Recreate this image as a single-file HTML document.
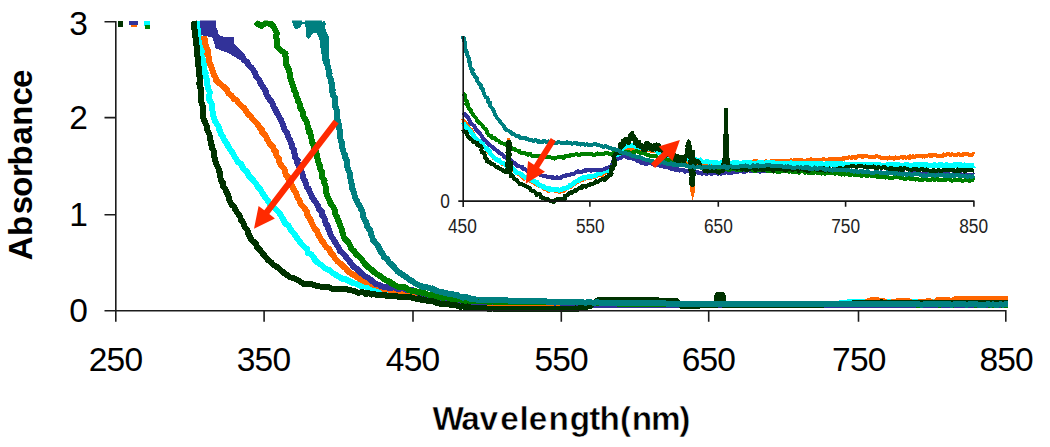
<!DOCTYPE html>
<html lang="en">
<head>
<meta charset="utf-8">
<title>Absorbance vs Wavelength</title>
<style>html,body{margin:0;padding:0;background:#fff;}body{width:1050px;height:447px;overflow:hidden;}svg{display:block;}</style>
</head>
<body>
<svg width="1050" height="447" viewBox="0 0 1050 447">
<rect width="1050" height="447" fill="#fff"/>
<defs><filter id="sb" x="-2%" y="-2%" width="104%" height="104%"><feGaussianBlur stdDeviation="0.45"/></filter></defs>
<defs><clipPath id="mc"><rect x="100" y="20.6" width="909" height="300"/></clipPath></defs>
<g clip-path="url(#mc)" filter="url(#sb)"><g fill="none" stroke-width="6" stroke-linejoin="round" stroke-linecap="butt" shape-rendering="crispEdges">
<polyline stroke="#00ffff" points="198.0,21.0 198.0,23.0 198.9,25.5 199.1,28.6 198.6,31.4 198.9,33.9 199.3,35.9 200.2,39.8 200.0,41.3 201.2,45.2 201.5,46.8 202.5,48.8 202.6,51.8 201.7,54.2 202.3,57.9 203.0,60.0 202.9,62.6 204.2,64.8 204.5,66.8 204.1,69.5 205.6,72.4 205.4,75.1 206.1,77.2 207.2,80.3 206.7,82.6 207.6,85.6 208.4,87.1 208.5,90.0 209.8,91.9 209.3,95.4 209.3,97.5 209.5,100.3 211.2,102.6 211.8,104.7 212.0,107.7 212.2,109.9 213.1,113.3 213.0,115.0 214.2,118.1 214.8,121.0 217.0,124.3 218.5,126.0 219.1,129.5 220.5,132.0 221.2,134.6 223.0,136.7 224.4,140.5 226.1,142.3 228.1,146.0 229.1,147.9 231.4,151.3 233.4,154.0 234.1,155.9 236.0,158.7 238.0,162.1 241.2,163.7 242.1,166.6 244.4,169.8 247.3,172.2 248.5,175.3 251.4,178.3 253.8,181.0 256.5,184.2 257.7,186.9 259.9,188.7 262.3,192.8 264.2,195.7 265.5,198.0 267.9,200.7 269.9,203.9 272.4,205.8 275.1,208.8 277.9,211.4 280.7,215.0 281.7,217.1 283.7,220.2 285.5,223.8 288.3,225.3 290.0,228.6 291.6,231.0 293.8,233.3 296.6,237.5 297.9,239.3 300.0,242.0 301.5,243.9 304.1,246.7 307.1,249.1 307.9,253.0 311.0,254.2 313.2,256.6 315.4,260.8 317.5,262.5 320.6,264.5 322.1,265.6 324.4,268.0 327.6,269.6 329.7,270.4 333.0,273.3 335.6,274.7 338.0,276.2 340.0,277.5 342.3,278.7 345.4,278.9 347.6,280.5 351.2,282.0 353.6,283.3 357.6,283.9 360.3,285.8 362.4,285.9 366.0,286.5 367.5,287.1 370.3,287.9 373.6,289.2 376.5,290.4 379.6,290.3 382.1,291.4 383.8,291.7 388.0,292.4 390.0,292.5 392.9,292.8 394.5,293.7 397.2,294.1 400.8,293.8 402.3,295.1 405.4,294.2 406.9,294.5 410.0,295.5 413.2,296.4 414.4,296.7 418.3,296.8 419.7,296.9 421.9,296.3 425.8,297.8 427.5,298.6 429.9,298.8 433.1,298.0 434.6,298.5 437.1,299.3 440.0,299.5 442.4,299.7 445.0,300.9 448.3,300.4 451.5,301.5 454.0,301.9 457.0,301.5 459.7,301.8 462.4,301.1 465.0,301.7 467.0,302.9 469.9,302.6 473.6,303.0 475.8,303.1 478.6,303.4 481.2,303.6 484.0,303.8 486.5,303.8 489.1,303.9 491.6,304.0 494.3,303.9 496.7,303.9 499.2,304.0 501.7,304.0 504.3,304.1 506.9,304.2 509.5,304.0 511.9,304.2 514.5,304.0 516.8,304.1 519.3,304.1 521.9,304.3 524.6,304.3 527.0,304.3 529.6,304.2 532.2,304.4 534.6,304.5 537.2,304.4 539.9,304.5 542.2,304.4 544.8,304.4 547.2,304.4 549.9,304.3 552.4,304.5 554.8,304.5 557.5,304.6 560.0,304.6 562.4,304.7 565.1,304.7 567.4,304.5 569.9,304.7 572.4,304.5 575.0,304.7 577.6,304.5 579.9,304.7 582.5,304.6 584.9,304.4 587.6,304.5 589.9,304.7 592.5,304.6 594.9,304.6 597.4,304.6 600.0,304.5 602.5,304.7 604.9,304.4 607.5,304.4 609.9,304.4 612.4,304.4 614.9,304.4 617.6,304.4 620.0,304.4 622.5,304.4 624.9,304.3 627.6,304.5 629.9,304.5 632.6,304.4 635.1,304.5 637.5,304.6 640.0,304.5 642.6,304.6 645.0,304.6 647.6,304.5 650.0,304.4 652.4,304.3 654.9,304.5 657.4,304.3 659.9,304.5 662.6,304.5 664.9,304.3 667.4,304.4 669.9,304.4 672.4,304.6 675.1,304.4 677.4,304.5 679.9,304.4 682.4,304.4 685.0,304.4 687.4,304.4 689.9,304.3 692.4,304.3 694.9,304.2 697.4,304.3 700.0,304.4 702.6,304.4 705.1,304.5 707.5,304.3 710.1,304.2 712.6,304.4 714.9,304.4 717.6,304.4 720.1,304.4 722.4,304.3 725.0,304.4 727.6,304.4 730.0,304.4 732.6,304.4 734.9,304.2 737.4,304.3 740.0,304.3 742.4,304.4 745.0,304.3 747.5,304.3 750.0,304.1 752.6,304.3 755.0,304.3 757.5,304.1 760.1,304.2 762.4,304.2 765.1,304.1 767.6,304.4 770.0,304.2 772.5,304.3 775.1,304.2 777.5,304.1 779.9,304.1 782.6,304.1 785.0,304.0 787.4,304.1 790.1,304.2 792.6,304.1 795.0,304.1 797.5,304.0 800.1,304.0 802.6,304.2 804.9,304.1 807.6,304.2 810.0,304.0 812.4,304.2 814.9,304.1 817.4,304.1 820.1,303.9 822.6,304.0 825.1,304.1 827.4,304.1 830.0,303.9 832.4,304.0 835.0,304.0 837.5,303.7 839.9,303.4 842.4,303.3 844.9,302.9 847.6,302.5 850.0,302.3 852.6,302.4 855.1,302.2 857.5,302.2 860.2,302.3 862.5,302.2 865.0,302.1 867.4,302.3 870.0,302.4 872.5,302.2 875.1,302.1 877.5,302.3 880.2,302.3 882.6,302.3 885.2,302.2 887.7,302.0 890.2,302.2 892.7,302.2 895.1,302.0 897.8,302.0 900.2,302.1 902.6,302.2 905.3,302.1 907.7,302.1 910.2,302.1 912.6,302.0 915.1,302.2 917.7,302.0 920.3,302.2 922.7,302.0 925.1,301.9 927.7,301.9 930.2,302.0 932.8,302.2 935.3,302.0 937.8,302.0 940.2,302.0 942.7,301.9 945.4,301.9 947.8,302.0 950.4,301.9 952.8,301.9 955.3,302.0 958.0,302.1 960.5,301.8 962.7,302.0 965.5,301.9 967.9,301.8 970.3,302.0 973.0,302.0 975.5,301.8 977.8,301.8 980.4,301.9 983.1,301.9 985.5,302.0 987.9,301.9 990.3,301.9 992.9,302.0 995.5,301.8 997.9,301.8 1000.5,301.9 1002.9,301.7 1005.5,301.8 1008.0,301.8"/>
<polyline stroke="#ff6600" points="203.8,36.0 204.2,38.3 205.2,40.7 205.3,44.2 206.3,47.0 207.6,49.8 208.0,52.2 207.3,54.4 209.1,57.7 208.8,60.0 209.4,61.7 210.6,65.3 211.4,67.1 212.7,70.7 212.8,71.7 213.9,74.9 215.4,77.0 216.0,80.0 219.1,83.0 221.2,84.7 224.5,87.4 226.9,89.9 228.4,93.4 231.5,95.5 233.7,98.8 236.5,100.0 238.5,102.9 241.8,106.3 244.0,108.0 245.7,110.7 248.2,114.5 250.4,115.7 252.6,119.2 256.3,122.8 258.0,125.0 260.0,128.3 261.9,129.7 262.3,133.2 264.8,134.2 266.3,137.3 267.4,139.7 268.6,141.7 270.4,144.7 273.2,146.9 274.0,150.0 276.2,152.3 276.5,156.0 278.7,158.1 278.7,161.0 280.7,164.5 281.7,166.3 284.3,168.5 285.0,172.0 286.1,175.1 288.0,176.4 288.1,179.0 290.9,181.9 291.8,185.5 292.4,187.0 294.0,190.0 296.1,192.7 296.7,195.0 297.8,198.2 299.5,200.2 300.5,203.8 302.9,206.2 305.1,209.2 306.7,211.0 307.0,214.6 309.0,217.4 311.2,221.0 311.6,222.6 313.1,225.8 314.6,228.6 316.9,230.8 318.3,234.6 319.9,237.4 321.0,239.7 323.0,242.1 324.7,245.0 326.6,247.4 329.6,249.5 330.7,253.2 333.0,254.7 334.8,258.1 337.5,261.4 340.0,263.2 343.5,266.6 345.2,267.7 347.7,271.0 351.2,273.6 354.4,275.2 356.3,276.8 359.8,278.9 362.4,280.3 365.6,282.1 368.3,282.0 371.4,283.5 373.6,285.0 376.4,285.6 379.5,286.2 381.4,287.1 383.9,289.0 387.4,288.9 390.0,290.0 392.3,291.4 395.0,290.7 398.0,291.9 400.8,291.6 402.5,293.4 405.6,294.1 406.7,293.6 410.0,294.5 411.9,294.3 415.8,295.4 418.2,295.4 420.6,295.9 422.1,296.8 425.8,296.1 427.7,297.3 429.5,297.3 431.9,297.4 434.6,298.4 437.8,298.1 440.0,299.0 441.7,299.0 445.3,299.0 447.2,299.2 450.5,300.1 451.8,299.6 454.8,300.6 457.7,300.1 459.4,301.3 462.3,300.9 464.7,302.3 467.2,301.9 469.8,301.9 473.1,303.1 475.0,302.4 477.6,302.7 480.0,303.0 482.4,303.2 485.0,303.2 487.5,303.3 490.0,303.1 492.4,303.3 495.0,303.5 497.4,303.5 500.0,303.5 502.4,303.5 505.0,303.8 507.4,303.7 510.1,303.9 512.4,303.7 515.1,304.0 517.5,303.8 520.1,304.0 522.6,304.1 525.1,304.0 527.6,304.1 530.0,304.4 532.6,304.2 534.9,304.3 537.5,304.4 539.9,304.4 542.6,304.7 544.9,304.6 547.6,304.5 550.1,304.6 552.5,304.8 555.0,304.8 557.5,305.0 560.0,305.0 562.5,305.0 565.0,305.0 567.4,305.0 570.0,304.9 572.6,305.1 575.0,304.9 577.5,304.9 579.9,305.0 582.4,305.0 585.0,304.9 587.5,304.9 590.1,305.1 592.5,304.9 595.0,305.0 597.6,304.9 600.1,305.1 602.6,305.1 604.9,305.1 607.5,305.1 610.1,304.9 612.6,305.1 614.9,305.0 617.6,304.9 620.1,304.9 622.6,304.9 625.0,305.1 627.4,304.9 630.0,304.9 632.4,304.9 634.9,305.1 637.6,305.1 639.9,305.1 642.4,305.0 645.0,305.0 647.6,305.0 650.0,305.1 652.4,305.1 655.0,305.0 657.6,304.9 660.1,305.0 662.5,305.1 665.0,304.9 667.6,304.9 670.1,304.9 672.5,305.1 675.0,305.0 677.4,304.9 679.9,304.9 682.5,305.0 685.0,305.1 687.4,304.9 690.0,304.9 692.4,305.0 694.9,305.0 697.4,305.0 700.0,304.9 702.5,305.0 704.9,305.1 707.4,304.9 709.9,305.0 712.6,305.1 715.0,304.9 717.4,305.0 720.0,305.0 722.5,305.0 725.1,305.1 727.4,305.1 729.9,305.0 732.5,304.9 734.9,305.1 737.4,305.0 740.0,305.0 742.7,304.9 745.0,305.0 747.6,305.0 750.3,304.8 752.7,304.8 755.1,305.0 757.9,304.9 760.2,304.9 762.9,304.8 765.5,304.8 767.9,304.7 770.4,304.6 773.0,304.8 775.6,304.8 778.2,304.6 780.7,304.6 783.3,304.7 785.7,304.7 788.4,304.5 790.9,304.4 793.3,304.5 796.0,304.7 798.5,304.5 801.1,304.4 803.5,304.6 806.1,304.5 808.7,304.6 811.2,304.5 813.8,304.5 816.2,304.4 818.8,304.3 821.2,304.4 823.7,304.4 826.3,304.1 828.8,304.4 831.5,304.1 833.9,304.1 836.6,304.2 839.2,304.3 841.5,304.2 844.2,304.2 846.8,304.2 849.2,304.2 852.0,304.2 854.3,304.0 856.8,303.9 859.6,304.1 862.0,304.0 864.7,302.9 867.4,301.6 870.0,300.5 872.9,300.4 876.1,300.4 878.9,300.5 882.0,300.5 884.9,301.7 888.0,303.0 890.9,302.5 894.0,301.8 897.1,301.4 900.0,300.8 902.8,300.9 905.2,300.9 908.0,301.0 912.0,303.0 914.6,302.9 917.2,302.7 919.8,302.3 922.5,302.1 925.0,302.0 928.0,300.8 931.1,301.8 934.0,303.0 938.0,300.0 940.4,299.9 943.1,300.1 945.4,300.0 948.0,300.0 951.0,301.0 955.0,299.3 957.5,299.4 960.0,299.3 962.5,299.4 965.0,299.4 967.6,299.1 970.2,299.2 972.5,299.2 975.1,299.3 977.8,299.3 980.3,299.1 982.7,299.1 985.4,299.0 987.9,299.0 990.2,299.0 993.0,299.1 995.3,299.2 997.8,299.0 1000.4,299.1 1003.0,299.1 1005.4,299.0 1008.0,299.0"/>
<polyline stroke="#333399" points="204.0,24.0 206.1,25.2 209.6,25.7 212.0,26.0 212.6,28.7 214.9,31.7 215.0,34.3 217.5,36.8 218.0,40.0 220.0,40.7 223.3,42.6 224.9,42.4 228.0,44.0 230.2,45.7 233.4,47.4 236.0,50.0 238.5,52.5 242.3,56.4 243.6,59.8 247.0,62.0 248.3,64.6 251.8,68.0 253.4,70.1 255.0,73.0 256.0,76.0 257.5,77.9 259.5,80.4 261.1,84.4 262.8,86.6 264.6,89.3 265.9,91.9 266.5,94.8 268.4,97.7 270.0,100.0 272.2,102.6 273.1,105.9 274.4,107.8 276.0,111.0 277.8,114.4 279.3,116.9 280.8,119.7 281.8,122.1 283.0,125.0 283.8,127.7 284.6,129.9 286.9,132.9 287.7,134.6 288.5,137.4 290.0,139.8 291.2,143.2 292.0,145.0 292.3,147.8 294.1,149.8 294.5,153.3 294.5,155.1 295.5,158.0 297.7,160.0 297.1,162.6 298.6,165.0 299.7,168.0 300.8,170.6 302.4,173.0 302.7,176.4 303.4,178.6 305.0,181.0 306.1,184.2 306.9,187.4 308.5,188.6 309.7,192.0 311.3,195.0 312.2,197.7 314.6,200.9 316.2,203.0 318.2,206.2 319.2,209.4 321.9,211.8 322.1,215.1 324.1,217.4 325.0,219.7 325.6,223.5 327.8,226.0 328.3,228.6 329.6,231.5 330.5,234.9 332.0,237.2 333.6,239.7 335.7,243.0 336.7,245.0 338.5,247.5 340.0,250.9 342.8,253.2 345.1,255.5 346.5,258.0 348.8,260.4 351.2,263.5 353.2,266.5 356.4,268.4 359.3,271.4 362.4,274.1 365.1,276.3 368.3,277.8 371.5,280.6 373.6,282.0 375.6,283.8 379.8,285.0 381.3,286.3 384.7,287.0 387.5,286.4 389.0,288.3 392.6,287.4 394.2,287.5 397.0,288.8 400.0,288.6 402.8,288.4 406.9,289.9 408.7,290.5 412.4,290.2 415.4,291.6 418.3,292.7 421.3,293.5 423.6,293.8 425.9,294.8 429.2,295.5 431.8,296.4 434.8,296.0 437.1,296.4 440.3,297.7 443.1,297.4 445.8,298.0 448.6,299.0 451.5,300.1 453.4,300.5 457.0,300.4 459.5,300.7 462.4,301.3 464.5,300.8 468.0,300.4 470.0,301.5 471.5,301.7 475.2,302.4 477.4,302.0 480.0,302.0 482.5,302.0 485.1,301.9 487.6,302.1 490.0,302.2 492.5,302.1 495.0,302.2 497.4,302.1 500.0,302.1 502.6,302.1 505.1,302.1 507.5,302.1 510.0,302.3 512.5,302.3 514.9,302.2 517.4,302.3 520.0,302.3 522.4,302.3 525.1,302.3 527.4,302.2 529.9,302.2 532.6,302.4 535.0,302.4 537.6,302.4 540.0,302.4 542.6,302.4 545.1,302.3 547.6,302.4 550.1,302.3 552.4,302.3 555.1,302.6 557.5,302.4 560.0,302.5 562.6,302.8 565.0,302.8 567.4,303.0 569.9,303.1 572.5,303.5 574.9,303.5 577.4,303.6 580.1,303.9 582.6,304.0 584.9,304.1 587.5,304.5 590.0,304.5 592.6,304.5 595.0,304.5 597.5,304.5 599.9,304.5 602.4,304.8 604.9,304.9 607.4,304.9 609.9,304.7 612.6,304.8 615.1,304.8 617.4,305.0 620.0,305.0 622.6,305.1 625.1,304.9 627.5,305.1 630.0,305.1 632.4,305.1 635.1,304.9 637.4,305.0 640.1,304.9 642.5,305.1 644.9,305.1 647.5,304.9 650.0,305.0 652.5,305.1 654.9,305.1 657.5,305.0 660.1,305.0 662.5,305.1 665.2,305.1 667.6,304.9 669.9,305.1 672.6,305.1 675.0,305.0 677.7,305.1 680.1,304.9 682.6,305.1 685.0,305.1 687.6,305.1 690.2,304.9 692.4,304.9 695.1,305.0 697.7,305.1 700.0,305.1 702.7,305.1 705.1,304.9 707.7,305.1 710.2,305.1 712.6,304.9 715.1,305.1 717.5,305.1 720.3,304.9 722.7,305.1 725.1,304.9 727.6,305.1 730.2,305.0 732.5,305.1 735.2,304.9 737.7,305.1 740.3,305.0 742.7,305.0 745.1,304.9 747.6,305.1 750.1,305.0 752.6,305.0 755.1,304.9 757.8,305.0 760.1,305.0 762.8,304.9 765.2,305.0 767.7,304.9 770.1,305.1 772.8,305.0 775.2,304.9 777.8,305.0 780.3,305.1 782.8,305.1 785.1,304.9 787.6,304.9 790.1,304.9 792.7,305.1 795.2,305.1 797.9,304.9 800.3,305.0 802.6,305.1 805.2,305.0 807.8,305.1 810.3,305.0 812.7,304.9 815.4,305.1 817.7,304.9 820.2,305.0 822.9,305.1 825.4,304.9 827.9,305.1 830.3,305.1 832.6,304.9 835.4,305.1 837.8,304.9 840.3,305.1 842.7,304.9 845.2,304.9 847.8,304.9 850.2,304.9 852.9,304.9 855.4,304.9 857.7,305.1 860.2,305.1 862.9,305.1 865.2,305.0 867.7,305.1 870.4,305.0 872.8,305.0 875.4,305.0 877.9,304.9 880.3,304.9 882.9,305.0 885.2,305.1 887.8,305.0 890.2,304.9 893.0,305.0 895.3,305.0 897.8,305.1 900.2,305.1 902.7,305.1 905.4,304.9 907.9,304.9 910.3,304.9 912.8,305.1 915.5,305.1 917.8,304.9 920.5,304.9 923.0,304.9 925.5,304.9 928.0,305.0 930.3,304.9 933.0,305.0 935.3,305.0 938.0,304.9 940.4,304.9 942.8,305.1 945.5,304.9 947.8,304.9 950.5,305.0 952.9,304.9 955.5,305.1 958.0,305.0 960.3,304.9 963.0,305.0 965.5,304.9 968.0,305.0 970.6,305.1 973.0,304.9 975.6,305.0 978.1,304.9 980.4,305.1 982.9,304.9 985.4,305.0 987.8,305.0 990.5,305.0 992.9,305.1 995.6,305.1 997.9,305.1 1000.5,305.1 1002.9,305.1 1005.6,305.0 1008.0,305.0"/>
<polygon fill="#333399" stroke="none" points="200.0,20.0 216.0,20.0 217.0,36.0 233.7,37.4 234.8,46.0 245.0,55.0 240.0,60.0 228.0,53.0 215.8,48.5 212.4,37.4 201.0,35.0"/>
<polyline stroke="#008000" points="255.5,22.0 258.0,24.0 261.5,25.8 266.0,23.0 268.8,23.7 271.5,24.3 273.6,26.6 275.5,30.5 276.8,33.2 276.0,36.2 277.0,40.0 276.7,44.0 277.3,47.0 281.0,50.5 285.5,53.5 285.0,55.6 286.4,58.6 286.3,62.0 286.1,64.8 287.8,67.2 288.6,69.1 289.6,72.8 289.6,75.0 289.6,76.9 291.2,80.1 291.6,82.0 292.6,84.6 293.8,88.4 293.8,90.5 295.6,92.4 296.0,95.5 297.6,98.9 297.8,100.8 299.6,103.6 299.8,107.1 301.0,109.0 302.6,111.4 302.7,114.1 304.1,117.8 305.9,120.4 307.0,122.9 307.5,125.0 307.5,127.5 309.7,130.7 309.2,132.4 310.6,134.8 311.2,136.8 311.7,140.0 311.7,141.9 314.1,145.5 314.0,147.5 315.5,150.2 316.0,153.2 316.9,154.2 317.2,157.2 318.1,159.7 318.6,163.3 319.5,164.7 320.0,167.6 320.8,170.0 322.3,172.4 322.0,175.5 322.4,178.0 324.6,180.4 324.2,182.9 325.4,185.5 326.0,188.1 325.9,191.2 327.1,195.0 328.1,197.6 329.5,200.2 330.6,203.5 332.7,206.2 334.4,209.2 335.1,212.1 335.6,215.0 337.2,217.4 338.2,220.3 339.5,222.9 340.1,225.4 341.5,228.6 342.0,231.4 343.3,234.3 343.6,236.7 345.4,239.7 348.2,242.1 349.9,245.4 351.6,249.2 354.2,251.2 356.2,254.5 358.4,256.1 362.0,259.5 363.7,262.4 366.0,265.0 369.7,268.4 372.3,270.3 376.0,273.6 379.3,275.5 380.4,276.4 383.2,278.5 386.2,280.3 389.0,281.3 391.4,283.2 393.9,284.3 396.0,285.9 399.3,287.0 402.3,286.8 405.0,287.4 407.6,289.1 409.9,290.5 412.7,290.5 415.4,291.0 418.2,292.4 420.5,292.2 422.7,293.0 425.7,293.4 427.7,294.5 430.2,294.7 433.4,296.3 435.5,296.3 438.0,297.0 440.1,297.0 442.6,297.8 446.0,297.3 449.2,298.0 451.7,299.2 454.5,298.5 456.2,300.0 458.1,298.9 461.6,300.0 464.9,300.8 466.8,301.5 469.4,301.0 472.0,301.3 474.8,301.1 477.0,301.4 479.5,301.5 482.2,301.4 484.5,301.4 487.1,301.5 489.7,301.6 492.3,301.5 494.7,301.6 497.4,301.5 499.8,301.7 502.2,301.6 505.0,301.7 507.4,301.6 510.0,301.8 512.5,301.9 515.1,301.7 517.4,301.7 520.0,301.8 522.5,301.8 524.9,301.8 527.5,301.9 530.0,302.1 532.5,301.8 535.0,302.1 537.4,302.1 539.9,302.0 542.6,302.1 545.1,302.0 547.5,302.1 549.9,302.2 552.5,302.3 555.0,302.2 557.4,302.1 560.1,302.1 562.4,302.2 565.0,302.4 567.5,302.4 569.9,302.2 572.6,302.4 575.1,302.4 577.4,302.4 580.0,302.5 582.4,302.7 585.0,302.6 587.5,302.7 589.9,302.9 592.5,303.0 595.0,302.9 597.4,302.8 600.1,303.1 602.4,303.2 605.1,303.1 607.5,303.3 610.0,303.4 612.4,303.3 615.1,303.3 617.4,303.6 620.0,303.6 622.4,303.5 625.0,303.5 627.6,303.6 630.0,303.6 632.5,303.8 635.0,303.7 637.4,304.0 640.0,304.0 642.5,303.9 644.9,303.9 647.4,303.9 650.1,304.0 652.4,304.1 654.9,304.0 657.6,303.9 660.0,304.1 662.6,303.9 665.0,304.1 667.5,304.2 670.0,304.2 672.5,304.0 675.0,303.9 677.6,304.0 680.2,304.1 682.5,304.0 685.1,304.0 687.7,304.0 690.1,304.1 692.5,304.2 695.0,304.1 697.6,304.0 700.0,304.0 702.5,304.2 705.0,304.1 707.5,304.1 710.1,304.1 712.5,304.0 715.0,304.0 717.5,304.2 720.0,304.1 722.7,304.2 725.2,304.2 727.5,304.1 730.0,304.2 732.7,304.1 735.1,304.2 737.7,304.1 740.2,304.1 742.7,304.0 745.0,304.3 747.7,304.2 750.0,304.0 752.6,304.1 755.1,304.1 757.5,304.1 760.2,304.1 762.8,304.2 765.2,304.1 767.7,304.2 770.1,304.0 772.8,304.3 775.1,304.0 777.8,304.2 780.1,304.1 782.6,304.3 785.1,304.3 787.8,304.1 790.3,304.2 792.8,304.3 795.1,304.1 797.8,304.2 800.3,304.3 802.8,304.3 805.3,304.2 807.6,304.3 810.2,304.2 812.9,304.1 815.3,304.1 817.8,304.3 820.2,304.3 822.9,304.3 825.3,304.2 827.6,304.2 830.2,304.2 832.7,304.2 835.3,304.3 837.7,304.2 840.3,304.3 842.9,304.2 845.2,304.4 847.7,304.3 850.2,304.4 852.8,304.4 855.2,304.3 857.8,304.3 860.4,304.4 862.7,304.2 865.3,304.2 867.7,304.2 870.2,304.4 872.8,304.2 875.3,304.3 877.8,304.2 880.2,304.2 883.0,304.4 885.2,304.4 888.0,304.4 890.2,304.3 892.8,304.3 895.4,304.2 898.0,304.4 900.4,304.5 902.9,304.3 905.3,304.3 907.7,304.4 910.5,304.3 912.8,304.4 915.5,304.5 917.8,304.5 920.5,304.5 922.8,304.3 925.5,304.3 927.9,304.4 930.4,304.5 932.8,304.3 935.4,304.4 938.0,304.5 940.5,304.5 942.9,304.4 945.3,304.4 947.9,304.3 950.5,304.3 952.9,304.6 955.3,304.3 957.9,304.3 960.5,304.3 963.0,304.5 965.5,304.4 967.9,304.5 970.5,304.4 972.9,304.4 975.5,304.6 978.1,304.4 980.4,304.4 983.0,304.4 985.4,304.3 987.9,304.5 990.6,304.6 993.1,304.6 995.6,304.5 998.1,304.4 1000.5,304.5 1002.9,304.5 1005.6,304.5 1008.0,304.5"/>
<polyline stroke="#003300" points="194.0,21.0 194.5,23.3 194.3,26.9 194.0,28.4 195.4,31.5 194.7,34.5 195.4,37.0 195.8,39.5 196.3,41.9 195.8,44.2 197.4,47.4 197.0,50.0 196.6,53.1 197.0,54.3 197.7,57.1 197.8,60.1 197.6,62.6 197.6,65.0 198.7,66.8 198.6,69.3 198.8,73.1 199.2,75.4 199.8,76.8 200.4,80.4 199.1,83.1 200.0,85.0 200.1,86.9 201.3,90.1 201.2,91.9 201.5,94.2 200.8,97.3 200.7,100.2 201.3,102.2 202.4,104.9 202.9,107.7 203.1,110.1 203.5,113.1 203.0,115.0 203.4,118.4 204.6,121.4 206.2,124.6 206.8,127.0 206.9,129.5 208.7,133.2 209.4,134.3 209.9,137.1 210.6,141.0 210.6,143.9 212.3,145.5 212.2,148.5 214.0,151.4 214.2,154.0 214.2,155.7 214.9,159.5 215.6,161.6 216.5,164.3 217.3,165.9 218.8,169.1 219.1,172.0 220.2,173.2 219.9,175.9 220.8,179.0 221.8,182.1 223.4,183.2 223.3,187.0 225.2,188.8 225.9,190.9 227.5,193.8 228.6,196.7 229.0,199.0 229.9,201.3 231.8,204.9 234.0,206.1 235.0,209.3 237.1,212.3 238.6,214.5 240.4,217.4 240.9,220.2 242.8,221.8 244.4,226.1 245.0,227.3 247.4,230.1 248.1,233.1 249.4,235.9 251.2,239.2 252.5,241.0 255.6,242.9 257.0,246.9 259.8,249.6 261.6,252.1 263.3,254.2 266.3,257.9 268.0,260.0 271.5,262.6 273.2,265.0 276.8,266.8 279.4,268.8 282.0,271.2 284.7,273.6 286.8,274.8 290.0,277.4 293.1,277.8 295.5,279.1 298.4,280.4 301.5,282.5 303.5,283.8 307.0,283.7 310.0,284.1 312.1,284.3 315.2,285.3 318.3,286.3 321.4,286.7 324.5,286.7 327.2,287.4 328.4,287.0 332.0,288.7 334.3,288.6 337.2,289.1 340.0,288.8 341.8,289.2 345.7,289.3 347.1,289.4 349.4,290.3 352.8,290.6 354.8,291.1 357.7,292.7 360.0,292.5 363.0,292.3 365.9,294.0 368.4,292.8 371.5,294.5 373.5,293.6 376.0,294.7 379.9,295.2 382.0,295.3 385.4,295.0 387.0,296.2 390.0,296.0 393.1,296.1 395.9,296.2 397.6,296.6 400.4,297.2 403.7,297.2 407.0,297.1 409.5,296.9 412.4,298.0 416.0,298.7 419.1,298.4 421.4,300.1 423.8,299.5 427.0,300.8 429.1,300.8 432.8,301.2 435.5,302.3 437.7,303.2 440.3,303.6 443.2,304.2 446.1,304.0 449.1,304.3 451.9,305.5 454.8,305.1 457.1,305.8 460.4,307.0 462.7,306.2 465.6,307.6 467.7,306.4 471.1,307.9 474.0,308.0 476.7,308.1 479.5,308.1 482.1,308.2 484.5,308.3 487.2,308.5 490.0,308.6 492.5,308.5 495.1,308.6 497.4,308.5 500.1,308.7 502.4,308.5 505.1,308.5 507.6,308.6 510.0,308.6 512.6,308.6 514.9,308.7 517.4,308.7 520.0,308.6 522.4,308.6 525.0,308.7 527.4,308.6 530.1,308.7 532.7,308.6 535.0,308.5 537.6,308.6 540.1,308.5 542.8,308.6 545.2,308.7 547.7,308.6 550.2,308.7 552.9,308.5 555.4,308.7 557.8,308.5 560.3,308.7 562.8,308.7 565.4,308.6 567.9,308.7 570.3,308.7 572.9,308.7 575.6,308.5 578.0,308.6 581.1,308.1 583.9,307.2 586.9,306.8 590.0,306.0 592.5,304.2 595.2,302.3 598.0,300.3 600.5,300.2 603.3,300.1 605.8,300.4 608.6,300.3 611.3,300.1 613.7,300.3 616.4,300.0 619.0,300.1 621.6,300.0 624.1,300.3 626.8,300.2 629.4,300.1 632.0,300.0 634.7,300.1 637.3,300.1 640.0,300.0 642.6,300.0 645.1,300.1 647.8,300.2 650.2,300.4 653.0,300.4 655.4,300.3 657.9,300.4 660.4,300.6 663.1,300.7 665.7,300.6 668.3,300.8 670.9,300.9 673.5,301.1 676.0,301.0 679.1,303.6 682.0,306.0 684.6,305.9 687.2,306.0 689.8,305.7 692.4,305.6 695.2,305.5 697.7,305.7 700.2,305.5 702.9,305.3 705.4,305.2 708.3,305.3 710.9,305.0 713.4,305.0 716.0,305.0 716.4,302.5 716.7,300.1 717.0,297.6 717.5,295.0 720.1,295.0 722.5,295.0 722.9,297.6 723.2,300.0 723.7,302.5 724.0,305.0 726.6,305.0 729.1,305.0 731.7,304.9 734.2,305.0 736.6,305.0 739.1,305.1 741.7,305.1 744.3,305.0 746.7,304.9 749.5,305.0 751.9,305.0 754.5,304.9 756.8,305.1 759.5,305.0 762.1,305.1 764.6,304.9 767.0,305.1 769.7,304.9 772.0,304.9 774.5,305.0 777.3,305.0 779.7,304.9 782.2,305.1 784.9,305.0 787.3,305.1 789.9,304.9 792.5,305.0 794.9,304.9 797.4,305.0 800.0,305.0 802.5,304.8 804.9,304.9 807.4,304.8 810.1,304.7 812.4,304.7 815.1,304.6 817.5,304.8 819.9,304.6 822.6,304.6 825.0,304.4 827.5,304.4 830.1,304.3 832.5,304.4 835.1,304.3 837.5,304.3 840.1,304.1 842.6,304.2 845.0,304.1 847.4,303.9 850.0,304.0 853.1,303.2 856.0,302.5 858.5,302.5 861.2,302.6 863.5,302.5 866.1,302.5 868.8,302.5 871.2,302.6 873.7,302.5 876.3,302.6 878.9,302.6 881.3,302.4 883.9,302.6 886.5,302.6 888.8,302.5 891.3,302.7 893.9,302.5 896.6,302.6 898.9,302.6 901.7,302.6 904.0,302.7 906.6,302.6 909.3,302.7 911.8,302.5 914.2,302.6 916.7,302.8 919.3,302.6 921.8,302.6 924.5,302.7 926.9,302.6 929.3,302.6 932.1,302.7 934.6,302.6 937.0,302.5 939.6,302.6 942.1,302.7 944.7,302.6 947.3,302.6 949.9,302.7 952.1,302.6 954.8,302.7 957.4,302.6 959.8,302.8 962.3,302.8 965.0,302.7 967.5,302.9 970.0,302.8 972.4,302.7 975.1,302.6 977.7,302.6 980.2,302.6 982.8,302.8 985.3,302.8 987.8,302.8 990.2,302.7 992.9,302.7 995.5,302.7 997.7,302.7 1000.5,302.9 1002.9,302.8 1005.4,302.9 1008.0,302.8"/>
<polyline stroke="#008080" points="322.0,22.0 322.7,23.9 322.1,27.3 322.5,30.1 323.3,31.5 324.2,34.2 324.5,37.0 324.7,38.9 325.4,41.7 325.4,44.0 325.4,47.9 324.8,48.8 324.9,52.4 324.7,54.7 324.6,57.1 325.4,59.7 326.5,62.4 327.1,64.6 328.1,67.4 328.9,71.7 329.6,73.7 329.2,76.2 330.7,79.2 331.0,82.0 332.2,83.9 332.0,87.8 332.7,89.9 332.3,91.8 333.1,95.7 334.6,97.1 335.2,99.4 335.2,103.6 335.2,106.2 336.0,108.0 336.7,109.9 336.6,113.3 336.9,116.6 337.2,119.3 337.8,120.8 338.7,123.6 339.0,127.0 339.6,130.0 340.1,132.0 339.6,134.7 340.2,137.5 340.7,139.9 341.5,142.1 342.5,144.3 342.2,148.2 343.2,150.0 343.7,153.3 345.4,155.5 344.9,157.6 346.9,160.3 347.0,163.8 347.1,166.4 348.0,169.3 349.3,172.0 349.9,174.3 349.9,176.9 350.5,179.0 351.2,182.9 352.2,185.4 351.9,188.1 353.3,190.4 354.0,192.8 354.5,195.0 355.4,198.2 356.6,200.2 357.8,203.2 359.9,206.2 360.8,208.6 362.4,211.1 362.7,214.1 363.5,217.4 364.9,220.7 366.4,222.3 366.8,226.0 368.5,228.6 370.4,230.6 370.9,234.5 372.3,236.7 372.8,239.7 375.2,242.5 377.3,244.6 379.2,248.2 380.3,251.2 382.3,253.3 384.2,257.2 387.1,259.0 388.9,262.4 391.7,264.6 394.4,267.5 397.7,271.6 401.0,273.6 404.7,276.0 406.7,277.4 410.1,280.0 413.0,281.4 414.9,283.3 418.3,285.0 421.7,286.3 423.2,287.0 426.4,286.9 430.2,288.6 432.6,288.5 435.0,290.0 438.1,291.4 440.8,291.7 443.3,292.5 445.4,292.5 448.4,293.8 451.1,293.6 453.8,294.7 456.3,294.6 458.9,296.4 460.7,296.6 462.8,297.7 465.3,297.1 468.3,297.6 470.9,299.2 473.8,299.4 476.0,299.5 478.5,299.7 481.1,299.7 483.7,299.8 486.0,299.7 488.6,300.0 491.0,300.0 493.7,300.1 496.0,300.1 498.5,300.1 501.2,300.2 503.7,300.3 506.1,300.3 508.7,300.6 511.2,300.5 513.6,300.6 516.3,300.7 518.8,300.9 521.2,300.9 523.7,301.0 526.2,300.9 529.0,301.0 531.3,301.3 533.9,301.4 536.3,301.3 539.0,301.4 541.5,301.4 544.0,301.4 546.4,301.5 548.8,301.8 551.4,301.9 553.9,301.8 556.4,301.9 559.0,302.0 561.6,302.0 564.0,302.2 566.7,302.2 568.9,302.2 571.6,302.3 574.1,302.3 576.7,302.2 579.1,302.3 581.8,302.3 584.1,302.5 586.6,302.5 589.3,302.4 591.7,302.5 594.4,302.6 596.8,302.4 599.2,302.5 601.9,302.7 604.2,302.7 606.9,302.5 609.3,302.8 611.9,302.7 614.5,302.7 616.9,302.8 619.6,302.9 622.0,302.9 624.4,303.1 627.0,303.0 629.4,302.9 632.0,303.1 634.6,303.0 636.9,303.1 639.7,303.0 642.2,303.1 644.6,303.1 647.1,303.2 649.8,303.4 652.1,303.3 654.8,303.3 657.1,303.4 659.6,303.4 662.2,303.4 664.9,303.4 667.2,303.7 669.8,303.7 672.3,303.7 674.8,303.5 677.4,303.7 679.9,303.8 682.5,303.7 684.9,303.9 687.4,303.8 690.0,303.8 692.5,303.8 695.1,303.9 697.4,304.1 700.0,304.0 702.4,303.9 704.9,304.0 707.6,304.1 710.0,304.1 712.4,304.0 715.1,304.2 717.6,304.1 720.1,304.0 722.7,304.1 725.0,304.0 727.6,304.0 730.0,304.2 732.6,304.1 735.1,304.2 737.5,304.0 739.9,304.0 742.6,304.2 745.1,304.1 747.5,304.1 750.0,304.2 752.7,304.2 755.0,304.1 757.7,304.1 760.2,304.2 762.7,304.2 765.2,304.2 767.5,304.2 770.2,304.1 772.6,304.0 775.2,304.2 777.6,304.0 780.0,304.0 782.7,304.3 785.2,304.1 787.7,304.0 790.2,304.1 792.5,304.2 795.0,304.1 797.5,304.1 800.2,304.3 802.5,304.3 805.1,304.1 807.7,304.1 810.1,304.2 812.6,304.3 815.1,304.3 817.8,304.2 820.1,304.3 822.6,304.2 825.2,304.1 827.7,304.3 830.2,304.2 832.7,304.2 835.1,304.3 837.9,304.3 840.4,304.2 842.9,304.1 845.2,304.1 847.7,304.3 850.3,304.2 852.7,304.2 855.2,304.2 857.7,304.3 860.3,304.2 862.7,304.3 865.2,304.2 867.8,304.3 870.4,304.4 872.9,304.4 875.4,304.4 877.7,304.2 880.1,304.4 882.9,304.3 885.2,304.3 887.7,304.3 890.5,304.3 892.7,304.2 895.3,304.4 897.9,304.3 900.2,304.2 902.7,304.4 905.3,304.5 908.0,304.4 910.3,304.4 912.7,304.2 915.4,304.4 917.8,304.3 920.2,304.5 922.9,304.5 925.5,304.3 927.9,304.3 930.5,304.5 932.8,304.2 935.3,304.4 937.8,304.2 940.5,304.5 942.9,304.3 945.5,304.4 947.8,304.3 950.4,304.5 952.9,304.5 955.3,304.3 958.0,304.4 960.3,304.5 962.8,304.3 965.4,304.5 968.0,304.5 970.4,304.3 973.0,304.3 975.4,304.4 978.0,304.5 980.4,304.5 983.0,304.5 985.4,304.6 988.0,304.3 990.4,304.6 992.9,304.4 995.6,304.6 998.0,304.6 1000.3,304.4 1003.1,304.6 1005.4,304.4 1008.0,304.5"/>
<polygon fill="#008080" stroke="none" points="292.0,20.0 302.0,20.0 302.0,22.3 305.4,22.3 305.4,20.0 321.6,20.0 323.2,31.0 327.5,34.0 329.4,38.0 329.4,52.0 329.6,64.0 323.5,64.0 321.0,52.0 319.5,40.0 317.0,33.5 313.0,33.0 311.0,36.0 308.5,38.7 305.8,36.0 305.4,23.5 302.0,23.5 300.5,27.0 296.0,29.6 294.0,27.0 292.3,22.5"/>
</g></g>
<g shape-rendering="crispEdges"><rect x="118" y="21" width="5" height="6" fill="#003300"/><rect x="129" y="21" width="9" height="4" fill="#333399"/><rect x="131" y="25" width="6" height="1.5" fill="#ff6600"/><rect x="144" y="21" width="6" height="5" fill="#00ffff"/><rect x="145" y="25" width="5" height="4" fill="#008000"/></g>
<g stroke="#1c1c1c" stroke-width="1.6" fill="none">
<path d="M115.8 21V321.7 M104.5 310.75H1006.6 M104.5 21.8H115.8 M104.5 117.6H115.8 M104.5 214.7H115.8 M264.1 310.75V321.7 M413 310.75V321.7 M561.3 310.75V321.7 M708.7 310.75V321.7 M858.5 310.75V321.7 M1005.8 310.75V321.7"/>
</g>
<g fill="none" stroke-width="4" stroke-linejoin="round" shape-rendering="crispEdges" filter="url(#sb)">
<polyline stroke="#ff6600" points="463.3,118.9 463.7,121.3 464.6,122.5 466.9,124.0 467.9,124.9 468.0,127.0 468.7,127.9 471.2,129.9 472.9,132.9 472.7,134.9 474.0,136.2 476.0,138.0 476.9,140.3 480.0,142.4 480.0,144.0 482.7,145.7 484.3,147.1 485.9,148.7 487.7,151.2 488.3,151.7 490.8,154.0 492.1,155.4 493.9,158.2 496.0,158.4 497.8,161.0 498.7,160.8 500.7,162.0 502.0,163.7 503.7,164.1 506.6,166.0 507.5,167.0 510.2,168.0 511.9,168.6 514.1,170.8 516.1,172.7 518.0,172.5 518.6,174.1 521.0,175.0 522.1,176.9 524.0,178.7 526.1,177.7 526.5,178.7 529.4,180.5 530.8,181.1 532.3,182.3 534.2,182.9 536.3,184.6 538.2,185.3 540.4,186.4 541.8,185.8 543.5,188.3 544.9,189.3 546.8,189.5 547.9,190.6 550.1,190.5 551.5,190.0 553.4,190.3 554.7,190.8 558.1,191.5 558.9,191.5 561.4,191.5 562.9,191.4 564.4,189.6 565.6,189.5 566.9,188.1 568.3,186.5 571.7,186.6 572.5,185.1 575.1,184.1 576.4,182.1 578.7,181.5 579.2,181.4 581.4,180.3 583.3,179.4 586.2,178.0 587.1,178.0 588.8,177.9 590.5,178.0 591.9,177.5 594.2,177.2 594.7,175.4 596.7,176.3 597.9,174.7 600.5,174.7 602.5,174.8 603.1,172.9 605.7,172.5 607.4,171.8 608.6,170.5 609.5,168.2 610.4,167.2 612.6,165.0 612.9,162.9 615.2,162.1 615.4,160.5 616.3,159.0 617.0,157.0 618.2,154.8 619.4,153.3 621.5,152.1 622.7,151.4 625.0,150.0 627.7,150.1 628.2,150.0 629.9,148.5 632.0,148.8 634.5,148.6 636.0,148.5 638.0,148.0 640.0,148.7 641.5,148.3 643.1,148.9 644.7,150.2 646.0,149.4 646.3,149.5 649.6,149.7 650.8,150.7 652.4,150.2 653.7,151.0 654.7,151.0 657.9,152.3 658.9,153.4 659.7,153.2 660.9,155.4 662.8,156.4 664.9,156.7 666.1,157.5 667.9,157.5 670.0,158.5 671.8,158.1 673.0,159.7 674.8,159.2 677.4,159.2 678.0,159.5 680.1,160.1 682.3,160.6 684.5,160.1 685.8,161.9 687.2,161.6 688.8,161.4 691.5,163.0 693.5,165.0 695.0,164.3 696.7,165.5 697.7,164.5 700.1,164.6 701.3,165.2 702.7,164.6 704.8,165.4 707.6,165.6 707.6,165.0 710.5,165.7 712.4,166.6 714.1,165.0 715.9,165.9 716.2,165.2 719.0,165.4 720.0,166.0 720.9,165.4 724.1,165.6 725.4,164.7 726.6,165.0 727.8,165.5 729.7,164.3 732.6,164.8 732.7,163.7 735.3,164.5 735.8,164.3 738.8,164.2 740.0,164.0 741.2,163.8 743.5,163.9 744.3,164.0 747.5,163.6 749.0,162.7 750.8,162.1 751.1,162.7 754.1,161.5 754.5,161.2 756.6,161.2 757.7,162.2 760.0,161.5 761.8,162.3 763.2,161.8 764.1,162.2 766.2,161.3 768.4,162.1 770.0,162.2 772.0,160.7 774.0,160.6 776.0,161.0 776.2,161.9 778.1,160.8 779.8,161.3 780.9,160.7 782.8,161.5 784.2,161.0 786.8,160.8 788.0,160.7 790.3,161.1 791.2,160.2 792.8,161.5 794.5,159.9 796.9,160.7 799.3,159.7 799.7,159.8 802.1,160.3 803.4,161.1 805.6,161.0 807.8,159.8 809.5,160.1 809.5,161.0 811.3,159.2 813.7,160.1 815.0,159.6 817.9,160.6 818.6,159.9 821.1,160.4 822.4,159.7 823.0,159.1 825.7,159.7 827.7,160.2 829.7,158.8 829.6,160.0 832.3,158.6 834.2,158.7 835.0,158.8 837.2,159.3 838.0,159.3 840.5,158.8 842.4,158.5 844.2,159.0 844.6,158.1 847.6,158.4 849.2,157.2 851.5,158.1 851.8,157.2 854.8,156.6 855.5,157.8 858.1,156.2 859.5,156.2 860.7,156.3 862.6,156.9 863.2,156.0 865.0,156.1 866.3,156.0 868.6,156.6 869.5,157.0 872.8,157.1 873.3,157.4 875.1,156.5 876.7,156.3 878.7,156.7 880.0,157.4 881.4,158.3 883.9,158.2 885.3,157.9 887.1,158.6 887.8,158.3 889.7,157.4 892.4,158.1 894.1,158.7 895.3,157.5 896.8,158.1 897.6,158.0 900.6,157.4 901.0,156.8 902.9,158.0 904.3,157.0 906.4,157.8 909.5,156.3 909.5,157.9 912.8,156.3 913.3,156.9 915.0,156.6 916.9,156.1 917.8,155.7 919.7,155.6 922.3,156.6 923.7,156.1 924.9,156.6 927.5,155.6 928.7,155.3 931.2,155.9 931.2,155.0 934.1,155.4 935.8,155.0 937.7,156.0 938.0,155.5 939.9,155.7 942.7,155.8 943.3,154.4 945.8,155.2 946.5,154.4 949.0,154.1 950.5,154.8 952.5,154.3 953.5,154.6 955.7,155.1 956.4,155.0 958.5,154.2 961.0,154.9 962.7,155.2 963.6,154.0 966.2,153.9 966.9,153.8 969.8,154.9 971.4,155.1 973.3,153.8 974.4,154.1"/>
<polygon fill="#ff6600" stroke="none" points="689.8,180 695.2,180 694.8,192 692.6,200.4 690.4,192"/>
<polygon fill="#ff6600" stroke="none" points="506,146 507.4,138.4 509.8,138.4 511.2,146"/>
<polyline stroke="#00ffff" stroke-width="4.6" points="463.3,122.3 464.2,124.6 465.0,126.2 466.3,127.0 468.4,129.7 470.0,130.9 472.5,134.1 473.2,134.7 474.2,137.2 476.5,139.0 478.4,140.6 480.7,142.7 482.7,143.7 483.2,146.1 485.9,148.1 487.5,149.5 489.4,151.3 490.4,153.7 492.7,156.1 493.9,157.5 495.3,158.5 498.0,160.5 499.0,160.0 500.3,162.1 502.0,162.9 503.3,163.0 506.4,165.6 506.5,165.7 509.1,166.3 509.8,168.2 512.9,168.5 514.1,169.6 514.9,170.6 516.5,172.9 518.0,172.9 521.0,173.8 522.1,175.7 523.1,175.7 524.9,177.5 527.9,177.6 528.4,179.6 530.6,179.7 531.8,180.4 534.2,181.7 536.9,181.9 537.3,184.0 540.3,185.3 541.3,186.3 543.4,186.0 544.9,187.8 546.8,188.3 549.0,187.9 549.7,189.7 551.2,189.8 553.4,189.0 555.0,189.7 558.1,189.3 558.9,190.3 561.2,189.5 561.6,189.8 563.6,188.2 565.6,188.3 567.2,187.7 569.9,186.0 570.1,185.1 573.0,184.1 575.5,181.8 576.4,180.9 578.8,180.8 579.5,179.3 581.5,178.6 583.3,177.4 584.8,178.3 587.1,176.8 588.6,176.6 591.2,176.5 591.6,176.4 594.4,176.1 595.9,175.2 597.7,173.9 599.1,173.7 600.5,173.5 602.8,172.0 603.8,171.6 606.0,170.8 607.6,171.0 608.6,169.5 611.3,166.5 612.6,164.8 614.1,163.5 614.3,161.6 613.8,160.2 615.4,157.7 616.0,156.0 617.4,154.8 619.9,153.2 620.6,150.4 622.8,148.9 624.0,147.3 625.8,146.3 628.4,145.8 629.5,145.5 630.4,145.0 633.3,145.6 634.5,146.3 636.2,146.8 638.5,147.9 639.3,147.5 642.2,147.4 644.0,148.1 644.6,148.6 646.8,147.3 648.6,148.9 650.2,148.4 651.8,149.4 653.7,148.9 656.0,150.0 657.7,152.2 659.2,152.6 662.1,153.9 662.3,155.0 663.8,155.1 666.4,156.0 668.1,155.5 670.0,157.0 671.7,157.8 673.8,157.1 674.3,158.0 677.0,157.2 678.8,158.8 679.6,157.8 681.7,159.1 682.3,158.1 684.2,159.0 685.5,158.9 687.8,159.3 688.7,160.0 691.9,159.4 692.6,159.5 694.8,159.1 696.6,160.1 697.9,160.9 698.8,161.2 700.1,159.8 702.3,161.7 704.7,162.0 705.5,162.2 707.2,160.9 709.0,162.4 710.2,162.3 711.5,161.9 713.4,162.6 715.1,162.0 716.8,163.0 717.5,162.7 720.4,163.5 721.1,162.5 723.2,162.4 725.0,163.7 725.8,163.1 728.4,163.4 730.0,163.3 730.8,163.6 733.6,162.1 735.2,162.8 735.2,162.1 738.2,163.2 738.5,162.8 741.1,163.8 742.1,163.4 743.5,162.3 745.0,162.7 747.4,162.5 748.2,162.3 749.6,162.3 751.7,162.8 753.0,162.8 755.1,163.7 756.8,163.7 758.3,162.2 760.0,162.8 761.8,162.2 762.6,162.0 765.2,163.8 766.2,162.6 767.9,162.7 770.0,162.8 770.5,163.7 772.9,162.1 775.1,163.5 775.7,163.3 778.4,162.9 779.1,162.8 780.9,163.5 782.8,164.0 783.3,163.0 786.3,163.8 787.4,163.6 788.5,164.1 790.5,163.1 791.4,162.6 794.4,164.0 794.3,163.1 796.8,163.4 798.1,164.2 800.0,163.5 801.3,163.6 804.1,163.8 804.8,163.3 806.3,163.8 808.6,163.2 809.5,163.5 811.1,164.5 813.0,163.3 814.3,164.4 815.6,164.1 816.9,163.2 818.6,164.4 820.4,163.3 821.8,163.4 824.7,164.3 826.7,164.8 827.6,164.8 828.4,164.8 830.7,163.4 832.9,164.7 833.8,163.3 836.3,164.6 837.4,165.0 838.0,163.3 840.5,164.2 841.4,163.3 844.2,164.5 844.7,163.7 846.5,164.5 849.1,165.3 850.1,165.3 851.9,164.2 853.2,164.0 856.2,165.4 857.3,163.9 858.0,163.9 860.0,165.1 861.1,164.7 863.9,163.8 865.1,165.3 867.0,164.6 869.2,165.0 869.8,164.6 872.6,165.5 874.2,165.0 874.4,164.3 876.5,165.3 877.4,165.5 880.0,165.0 882.2,165.0 882.3,165.6 884.7,165.3 886.6,165.5 888.0,165.9 890.6,165.9 891.6,164.7 892.8,164.6 895.4,165.6 896.8,165.7 898.8,165.5 899.2,165.6 900.7,165.3 902.1,165.8 904.4,164.7 906.8,164.3 908.5,165.6 908.6,165.7 911.1,165.9 912.7,165.0 915.0,164.4 916.3,164.4 917.0,164.5 919.8,165.1 921.1,164.8 922.8,165.5 923.2,165.2 926.0,164.7 927.5,164.8 928.6,166.1 931.3,166.2 931.9,165.4 934.3,165.8 935.3,166.0 936.8,166.2 938.5,164.6 940.7,164.6 942.2,164.5 944.4,165.4 945.6,164.6 947.0,165.1 947.9,166.0 949.1,165.3 950.8,166.0 954.0,164.5 954.8,165.3 956.9,165.8 957.8,166.2 959.2,164.7 962.0,164.7 962.4,165.4 964.3,164.8 967.1,165.4 968.4,165.0 970.3,164.9 971.9,165.7 973.7,166.0 974.4,165.5"/>
<polyline stroke="#00ffff" stroke-width="5.6" points="770.0,163.2 773.1,163.3 776.2,163.3 778.8,163.6 782.2,163.5 785.1,163.3 788.0,163.8 791.3,163.9 793.8,163.8 797.0,163.7 800.0,163.8 802.9,163.6 806.2,163.9 809.2,163.9 812.5,164.2 815.6,163.9 818.9,164.0 822.1,164.5 824.7,164.3 828.3,164.2 831.2,164.2 834.0,164.2 837.2,164.3 840.5,164.5 843.6,164.6 846.8,164.7 849.5,164.9 852.7,164.7 855.9,164.9 858.6,164.9 861.6,165.2 864.7,165.2 867.6,164.7 870.9,164.9 873.9,164.9 877.2,165.2 880.0,165.2 883.2,165.5 886.4,165.3 889.3,164.9 891.9,165.2 895.5,165.1 898.3,165.0 901.3,165.5 904.4,165.5 907.1,165.1 910.3,165.5 913.3,165.6 916.4,165.5 919.6,165.2 922.9,165.3 925.8,165.1 928.9,165.6 931.5,165.5 934.7,165.2 937.8,165.5 941.2,165.7 944.2,165.5 947.1,165.2 950.2,165.5 953.0,165.7 956.0,165.2 959.0,165.2 962.3,165.6 965.1,165.5 968.4,165.5 971.3,165.5 974.4,165.5"/>
<polyline stroke="#333399" points="463.3,112.2 463.7,113.2 465.8,115.5 467.7,117.3 469.1,119.2 469.8,121.6 470.4,123.2 472.2,124.5 474.3,125.9 475.1,128.0 476.8,130.2 477.7,131.2 479.9,133.0 479.9,133.6 481.8,136.0 482.6,137.6 484.3,140.0 486.5,141.3 488.3,144.3 489.9,145.4 491.3,146.2 493.3,148.0 496.3,150.2 497.3,150.7 499.3,152.8 500.3,153.3 503.7,155.5 504.3,156.7 506.0,157.7 508.7,158.9 510.3,159.6 512.9,162.3 514.4,162.7 516.5,164.7 518.1,166.3 520.3,166.5 522.6,167.2 523.2,168.9 525.0,169.3 527.5,171.0 529.8,172.3 531.1,171.3 533.4,172.1 535.4,172.2 536.6,173.6 538.3,173.2 539.3,174.5 542.7,175.8 542.7,175.6 545.1,175.6 546.8,176.8 548.7,177.1 550.6,177.0 552.5,178.2 553.2,177.2 554.9,178.2 556.7,177.2 558.8,177.9 560.4,178.1 561.2,177.3 564.4,175.8 565.6,176.2 567.1,174.7 569.4,175.3 570.7,174.5 572.5,173.9 574.2,173.7 576.4,172.1 578.0,170.9 579.0,172.0 582.1,171.6 582.4,171.8 585.2,170.1 586.2,170.9 587.2,169.5 589.8,170.1 591.2,170.7 594.1,169.6 595.6,170.4 597.2,170.0 599.1,170.0 600.7,169.8 600.9,169.6 603.2,169.5 604.8,168.7 606.2,168.4 608.2,167.4 609.3,167.3 611.3,166.8 611.8,165.0 612.7,163.0 612.9,161.5 613.4,160.3 615.9,160.0 617.4,158.9 619.6,158.3 620.3,158.4 622.5,156.6 624.2,156.2 625.7,156.6 628.4,157.9 629.8,158.3 631.2,158.3 633.6,158.9 635.2,159.4 637.1,161.0 639.7,160.8 640.6,162.7 643.0,163.0 645.1,163.6 646.8,163.8 647.9,162.8 649.9,163.0 652.8,164.1 653.7,164.3 655.7,165.5 657.6,164.5 658.4,164.6 661.0,166.1 662.1,165.7 663.3,166.3 665.8,167.4 667.1,167.0 669.4,168.1 670.3,167.7 671.8,169.1 673.2,168.0 675.1,169.9 677.8,169.2 679.5,170.6 680.5,170.3 682.0,169.9 684.4,170.5 684.8,171.7 687.1,171.0 689.1,170.9 689.7,171.4 692.0,170.9 693.7,172.5 695.3,172.6 697.5,171.8 698.1,173.0 700.9,172.5 701.8,173.7 704.8,172.8 705.9,173.6 707.4,173.7 708.9,172.7 710.7,173.8 713.0,173.4 713.9,172.8 716.0,173.0 717.9,173.9 720.0,173.0 720.9,173.8 722.8,173.4 724.5,172.8 726.4,171.6 728.9,173.0 729.6,172.8 731.6,173.1 732.5,171.8 734.5,172.1 737.2,172.4 738.4,171.4 740.0,171.5 742.2,170.7 742.8,171.9 744.7,172.3 745.7,171.2 747.5,170.3 748.9,170.4 751.0,171.0 752.9,170.7 754.9,171.1 757.0,170.4 757.8,171.0 759.1,171.6 760.4,171.6 762.3,170.5 764.4,170.9 765.4,169.9 768.3,170.4 768.3,170.9 770.7,170.3 771.9,171.2 773.6,170.3 776.4,170.2 776.9,169.7 779.0,170.7 780.2,170.1 781.4,170.8 783.5,170.8 784.9,170.6 785.9,169.6 789.3,170.4 790.0,170.0 791.9,170.0 793.2,169.5 794.2,170.4 796.8,169.8 798.3,169.6 799.9,169.7 801.3,170.0 803.0,169.7 804.4,170.7 805.4,170.2 808.0,170.7 809.5,171.2 811.0,170.2 812.4,171.4 814.2,171.3 815.5,170.8 818.2,171.5 819.2,170.2 820.7,170.1 823.0,172.0 824.2,170.7 826.0,170.6 827.6,171.3 827.7,172.0 830.1,172.0 832.1,171.5 834.1,170.9 835.8,171.2 835.7,171.2 837.4,170.8 840.1,170.9 840.8,171.3 842.6,172.6 845.4,172.5 847.2,171.8 848.4,171.5 850.3,172.6 851.5,171.5 851.9,172.9 854.4,172.4 856.6,171.5 857.9,172.2 859.7,172.2 860.1,173.2 861.9,172.9 864.6,172.0 865.9,172.3 866.6,172.0 869.6,172.4 870.4,172.7 871.1,173.2 874.0,173.5 874.9,172.3 876.5,173.3 878.7,172.8 880.0,173.0 881.7,172.4 884.1,173.0 884.9,173.6 885.9,173.6 887.9,173.8 889.0,172.8 891.7,173.2 892.8,173.4 894.1,173.2 895.3,173.9 897.4,174.0 899.6,173.6 901.4,172.7 903.3,173.1 905.1,174.1 906.4,174.2 907.5,173.9 910.2,173.0 910.2,173.5 912.6,173.0 913.6,174.4 915.6,173.1 916.8,173.9 918.5,173.8 920.8,173.7 922.3,174.5 923.0,174.7 925.0,173.1 927.7,174.1 928.9,173.5 931.0,173.7 932.5,173.6 933.8,174.4 935.1,174.1 936.1,174.5 939.0,173.6 940.3,174.7 941.1,175.0 944.2,173.5 944.6,173.6 946.3,173.6 948.3,174.0 949.6,174.4 951.4,175.1 953.7,173.8 954.3,173.7 956.2,173.9 958.5,175.2 960.7,174.1 960.5,175.2 962.8,175.6 964.4,174.4 965.5,175.7 967.9,174.7 969.4,175.4 971.8,174.9 972.2,174.8 974.4,175.0"/>
<polyline stroke="#008000" points="463.3,93.4 464.6,94.9 464.7,96.9 464.9,98.6 465.1,100.2 466.8,101.0 466.4,104.2 468.1,104.2 467.8,106.8 469.3,108.8 470.9,110.2 470.8,111.6 473.2,114.1 473.5,115.7 475.6,117.5 476.5,118.9 477.1,120.6 479.1,122.7 480.6,123.7 482.7,125.8 483.9,128.0 485.9,129.2 486.9,131.8 487.5,133.2 488.9,135.2 491.2,136.0 492.2,137.8 494.7,138.1 496.6,140.1 498.6,140.7 500.6,142.8 502.4,143.3 505.1,144.3 505.9,144.9 508.7,146.0 509.9,147.8 511.4,148.1 513.0,149.4 514.5,148.9 515.9,150.4 519.2,150.7 520.2,152.5 522.1,152.8 523.3,152.6 525.5,153.5 528.0,154.8 528.3,154.6 530.3,154.0 532.0,156.1 533.5,155.9 535.5,156.2 537.6,155.6 539.7,155.9 540.3,157.3 541.4,156.8 543.3,157.2 544.8,156.8 546.9,156.9 548.4,157.4 550.9,157.5 553.2,158.2 554.3,158.6 555.6,157.8 558.5,157.2 560.1,157.0 562.3,157.3 563.4,157.9 565.0,156.9 565.9,155.7 568.7,156.3 570.4,155.3 571.7,154.7 573.2,154.5 575.0,154.5 576.9,154.0 578.0,154.6 579.4,154.9 581.9,153.7 582.9,154.2 585.4,154.5 587.1,154.0 588.5,153.8 591.2,153.6 593.0,154.7 594.7,154.8 595.0,154.6 597.4,153.4 599.8,154.3 600.5,154.0 602.8,154.0 603.2,154.5 605.1,153.3 607.6,153.1 609.1,154.0 610.1,153.9 612.6,153.5 613.6,153.3 616.4,153.5 617.1,152.4 620.6,152.6 621.3,152.4 623.6,153.0 625.3,152.2 626.8,152.2 628.7,152.1 629.8,152.8 633.1,152.4 634.9,151.7 636.4,151.1 637.6,151.5 639.9,152.6 642.2,153.5 644.0,153.1 645.7,154.2 647.0,154.9 648.3,155.0 650.8,156.3 652.5,156.4 652.9,155.8 655.3,156.3 656.5,156.5 657.7,158.0 659.5,158.6 661.3,159.0 662.9,158.3 664.7,158.2 666.4,159.3 667.2,160.6 669.8,160.3 671.4,159.8 674.3,160.7 675.2,161.6 676.4,161.2 677.7,163.0 680.3,163.1 681.3,163.2 684.3,163.8 686.0,165.3 686.0,165.7 687.4,165.9 690.0,166.0 692.3,166.5 693.4,166.9 694.3,166.6 696.2,166.5 697.7,167.2 700.1,167.5 701.9,167.4 704.1,167.9 705.1,167.2 707.5,167.4 707.6,167.5 710.4,168.8 711.9,168.5 714.2,168.9 714.9,168.4 717.2,168.3 717.6,169.1 720.0,169.0 722.2,168.6 723.5,169.8 724.1,168.5 726.4,168.9 728.9,170.2 729.5,169.8 731.5,168.7 733.7,168.8 733.6,169.3 735.1,169.4 737.4,170.4 739.0,170.2 741.3,169.8 741.9,169.3 744.0,169.5 745.9,169.8 746.9,170.0 749.7,169.3 750.1,169.0 751.2,169.1 753.5,170.6 755.6,170.9 757.4,170.3 758.6,169.2 760.0,170.2 761.4,169.8 763.4,169.5 764.9,170.2 766.4,170.3 767.3,171.0 770.2,170.8 770.5,170.9 773.6,171.7 775.0,169.9 776.8,171.2 777.3,171.7 779.9,171.8 780.5,171.2 782.3,170.8 784.6,171.4 785.4,171.4 788.2,171.5 789.8,171.5 791.5,170.6 792.1,171.7 794.2,172.5 795.7,171.7 797.3,171.8 799.0,172.7 799.3,171.6 802.6,171.1 804.0,171.1 805.4,172.7 806.2,171.9 807.8,172.6 810.0,172.5 811.2,172.5 814.0,173.0 815.6,172.0 816.4,172.4 817.7,173.2 819.0,172.8 821.7,173.6 821.9,172.4 824.4,173.7 825.4,173.6 827.4,173.1 830.0,172.3 830.5,172.5 831.8,172.9 834.4,173.5 835.0,174.0 837.3,172.8 839.5,174.1 840.5,173.6 841.6,174.6 844.4,173.3 844.5,174.7 847.7,173.3 849.2,174.7 850.6,175.0 852.9,174.1 854.3,175.4 855.0,175.1 857.3,175.5 858.7,174.5 859.8,175.2 861.2,175.9 864.3,174.9 865.6,175.8 866.1,176.1 869.0,175.4 869.4,175.4 872.3,175.9 874.0,175.5 874.3,175.9 877.4,175.7 877.5,177.0 880.0,176.6 880.8,177.0 882.4,176.3 885.2,177.6 886.3,176.9 887.2,176.9 889.2,177.8 891.7,177.9 893.0,177.9 893.9,177.4 895.8,177.3 898.3,177.3 899.1,177.5 901.7,178.3 902.6,177.9 905.1,179.1 905.8,178.5 908.2,178.0 908.7,177.8 910.8,179.2 911.7,178.7 914.9,178.9 915.4,179.7 918.0,178.9 918.1,179.5 920.9,180.2 922.4,179.1 923.7,179.6 925.4,179.2 926.9,179.6 929.4,180.4 931.1,179.6 932.8,179.0 934.3,180.0 935.9,179.6 937.7,178.9 939.1,180.4 939.8,180.5 941.1,180.3 943.3,179.7 944.4,180.5 947.0,179.1 949.1,179.4 949.6,179.8 951.6,180.7 954.0,180.3 954.5,179.3 955.6,180.1 958.2,180.0 960.6,179.9 961.0,180.0 962.3,181.0 964.8,180.2 966.1,179.7 967.5,180.2 969.4,181.1 971.2,179.7 971.9,179.6 974.4,180.3"/>
<polyline stroke="#003300" points="463.3,129.7 463.9,132.0 466.4,132.1 467.1,134.2 467.5,135.9 468.4,137.4 468.8,137.4 472.2,140.3 473.1,142.1 475.1,142.1 477.6,143.1 477.3,145.2 480.5,145.9 481.8,148.1 481.2,149.8 481.9,152.2 484.2,152.7 484.5,155.0 485.0,155.9 485.0,157.4 487.4,159.8 487.2,161.6 489.4,162.1 491.3,163.7 492.5,164.1 493.8,164.5 495.3,166.3 498.3,167.6 498.7,168.3 499.2,168.3 502.0,169.6 503.4,171.5 506.2,171.6 507.6,171.6 506.3,169.9 508.7,169.3 508.3,166.4 507.0,165.9 507.3,164.4 507.4,163.0 508.1,161.6 509.2,158.9 509.3,156.3 509.0,154.8 508.2,154.2 508.8,152.5 507.4,152.2 508.3,150.6 508.2,147.1 509.0,146.0 508.2,143.9 507.7,144.1 508.4,142.1 509.4,142.1 510.2,144.0 509.3,145.7 510.0,145.8 509.7,148.4 510.2,148.8 509.1,150.7 508.6,152.3 510.3,154.4 508.9,156.3 508.8,157.9 508.9,157.6 509.2,160.3 509.3,162.8 511.1,162.7 510.7,165.3 510.2,165.6 511.3,169.0 508.8,168.8 509.7,170.0 510.2,172.3 511.0,175.1 510.9,176.6 512.6,176.0 514.1,179.0 517.1,180.1 517.3,181.4 520.0,184.2 521.2,183.7 522.3,184.6 525.0,185.7 525.9,186.4 528.0,186.9 530.4,188.7 530.8,190.5 533.6,190.7 534.4,191.3 536.1,193.0 536.7,195.0 539.5,193.9 541.9,197.0 541.1,197.5 543.2,198.1 545.5,199.0 548.1,199.0 548.8,200.3 549.7,200.6 552.2,200.7 553.5,201.9 554.4,201.0 555.6,199.7 557.3,199.2 560.0,199.1 562.3,198.8 563.0,199.7 564.7,199.1 564.6,195.9 567.7,195.0 568.3,193.6 571.0,192.4 571.1,193.3 572.5,192.6 575.5,189.8 576.1,191.0 576.5,190.0 579.1,188.3 581.4,188.4 582.4,186.0 584.9,185.5 586.0,186.6 586.2,185.9 588.0,185.5 589.8,184.2 590.1,184.8 592.5,183.9 594.3,183.3 595.4,182.0 596.2,181.3 597.8,181.7 600.5,180.2 602.5,179.2 604.9,179.8 606.4,176.7 607.3,177.7 608.6,175.0 609.9,175.5 611.6,173.8 611.3,173.2 611.0,169.5 613.3,168.6 611.5,166.7 613.3,166.1 614.9,165.2 613.0,162.1 615.1,162.0 614.5,159.1 614.3,159.7 613.5,156.8 613.9,156.9 615.3,154.0 616.8,152.2 617.5,150.9 619.1,153.5 620.4,144.0 621.8,147.3 623.0,140.5 624.2,144.9 625.1,138.8 626.2,142.4 627.2,138.8 628.6,143.2 630.1,135.2 631.3,139.1 632.3,132.8 633.3,139.0 634.2,136.2 635.0,143.6 636.2,139.4 637.6,145.8 639.0,141.6 640.4,147.0 641.6,144.9 643.0,149.8 644.1,145.7 645.6,150.2 646.5,142.6 647.3,148.0 648.7,143.5 650.2,148.7 651.4,145.2 652.7,150.2 654.0,144.9 655.4,149.6 656.3,144.5 657.4,148.8 658.7,145.1 659.8,150.5 660.9,147.6 661.8,150.7 663.2,148.3 664.3,154.0 665.4,149.3 666.2,155.9 667.8,150.5 668.9,155.4 669.8,152.3 671.3,156.4 672.3,153.5 673.7,158.7 674.8,154.5 676.2,161.6 677.7,155.7 679.0,162.9 680.4,156.9 681.3,160.3 682.7,157.1 684.1,162.4 685.3,156.8 686.6,154.6 687.1,152.2 687.3,151.2 686.8,150.5 688.1,147.3 687.3,146.1 688.2,144.4 688.2,143.8 688.6,141.5 688.2,143.6 688.7,145.7 690.1,146.1 689.7,147.3 689.5,149.9 690.1,151.0 689.1,152.2 690.4,153.9 690.5,156.2 690.2,158.1 691.4,159.6 690.2,161.4 690.3,163.5 690.1,164.1 690.7,167.1 690.2,167.4 690.2,169.1 690.7,171.1 691.6,172.8 691.1,174.5 691.8,177.2 691.1,178.9 690.8,180.7 691.4,181.8 691.2,182.7 691.5,184.8 693.2,184.8 692.6,183.9 693.1,181.9 693.4,180.0 693.0,177.6 693.3,177.0 693.8,174.0 694.2,173.2 693.0,171.3 693.4,170.7 694.2,168.1 693.7,166.4 693.8,164.9 694.9,164.1 694.8,162.7 694.5,160.3 697.2,160.9 699.3,163.0 699.5,163.9 701.0,166.3 703.2,168.0 703.5,168.9 704.7,171.0 707.4,171.6 707.8,170.2 710.8,170.7 712.2,170.5 713.5,171.1 715.7,171.1 715.8,170.9 718.9,172.6 720.0,171.7 723.0,171.0 723.5,169.7 723.0,167.3 722.9,167.1 723.0,164.8 723.9,162.3 724.3,162.2 724.1,159.0 725.1,158.4 725.1,155.8 726.1,154.1 724.9,152.7 725.8,151.6 726.0,150.0 726.4,152.1 727.3,153.2 725.8,155.6 726.0,156.2 726.5,158.4 728.0,159.1 727.3,162.2 728.3,162.3 728.6,165.3 728.3,165.7 728.7,168.0 730.7,166.9 731.3,167.2 733.4,167.9 735.1,167.9 737.0,168.8 739.2,166.7 739.9,168.3 742.6,169.6 744.1,168.4 745.7,169.7 746.1,167.1 747.7,170.0 749.8,168.9 751.8,167.6 753.8,168.5 755.7,169.9 756.3,168.8 758.9,169.3 760.0,168.9 761.3,169.1 762.5,170.0 764.7,169.5 766.1,167.9 768.0,169.5 770.4,168.9 771.6,169.8 773.5,170.8 774.5,169.0 775.5,169.5 778.2,168.1 778.4,168.8 781.7,168.8 783.0,168.6 784.1,169.7 785.4,170.5 786.4,169.8 788.0,169.5 790.7,169.4 792.6,170.0 794.5,169.2 794.2,168.0 797.4,168.2 798.5,171.0 800.0,168.3 801.0,168.9 804.1,169.8 804.8,169.9 806.2,170.6 808.9,170.7 809.6,170.2 811.6,168.8 813.1,169.1 815.4,168.2 816.8,169.8 818.4,169.2 819.0,170.3 822.1,169.7 824.0,168.0 824.7,170.7 827.3,169.0 829.3,170.9 829.1,168.4 830.8,169.9 833.0,169.1 835.0,168.9 836.5,169.0 839.1,168.4 840.0,167.9 841.1,168.6 842.8,169.0 845.7,168.2 847.0,166.6 848.0,167.2 849.2,166.6 851.3,166.4 854.0,166.2 856.6,167.0 858.2,165.8 858.3,165.5 860.0,165.6 862.2,166.2 864.1,166.8 865.6,166.4 867.5,167.2 869.1,166.9 870.2,166.6 871.0,167.0 873.7,166.5 875.8,168.0 877.5,168.0 878.4,166.8 880.0,167.5 881.2,168.1 884.2,166.9 883.9,167.5 886.2,168.1 887.3,168.7 889.4,168.9 891.0,167.8 892.3,169.2 894.7,169.1 895.3,168.6 898.3,169.6 900.3,167.9 900.8,169.8 902.7,169.8 903.8,168.1 906.8,168.6 907.6,168.9 909.3,170.2 911.6,170.2 911.9,170.1 913.0,169.4 916.5,169.2 917.0,170.0 918.3,170.3 920.8,169.2 922.9,169.2 923.7,170.2 925.7,169.9 926.3,169.4 929.6,170.8 930.2,170.8 932.8,171.1 933.6,169.8 935.2,171.3 937.2,170.6 939.1,170.1 940.2,171.0 941.1,171.1 942.4,170.4 945.1,169.7 947.4,170.3 947.6,170.2 950.1,170.3 950.5,169.6 953.6,169.7 954.3,171.1 957.1,171.2 957.4,169.5 960.2,170.7 961.0,169.5 962.8,170.0 964.8,171.5 965.6,169.7 968.2,169.8 968.9,170.4 972.1,170.2 972.4,170.5 974.4,170.6"/>
<rect fill="#003300" stroke="none" x="506" y="141.8" width="5.2" height="30.5"/>
<rect fill="#003300" stroke="none" x="689.8" y="150" width="5.4" height="35"/>
<rect fill="#003300" stroke="none" x="686.8" y="141.5" width="4" height="16"/>
<rect fill="#003300" stroke="none" x="723" y="134" width="5.8" height="36"/>
<rect fill="#003300" stroke="none" x="724.4" y="108.4" width="3.2" height="27"/>
<polyline stroke="#008080" points="463.2,35.6 463.1,38.0 463.7,38.1 463.6,40.8 464.8,41.6 464.5,44.0 465.4,45.5 465.3,47.2 465.5,50.0 466.8,51.5 466.4,52.4 467.4,54.4 466.8,54.7 468.6,57.5 468.8,58.4 468.6,61.2 469.6,61.1 470.1,63.6 470.4,65.2 470.6,68.2 472.8,69.7 471.8,70.8 472.6,73.3 474.0,74.7 475.6,77.0 476.6,77.5 477.1,80.0 477.0,80.9 479.5,84.0 479.7,84.5 481.2,86.0 481.0,87.4 483.1,89.9 483.6,92.3 483.9,93.4 484.9,96.0 486.1,97.6 487.3,97.6 487.7,99.6 487.8,101.5 489.9,102.6 489.6,104.4 490.6,106.8 492.6,108.5 493.1,110.3 494.3,111.7 494.7,114.2 496.3,116.2 496.6,117.8 498.0,118.9 499.8,120.8 500.5,122.5 501.2,123.3 503.0,125.1 504.7,127.5 505.8,129.6 508.7,130.8 510.8,132.2 511.5,133.5 514.3,134.5 515.4,135.4 516.6,136.0 518.6,136.0 519.8,137.6 522.4,138.2 523.2,137.5 525.5,137.6 526.7,139.0 528.8,139.4 530.4,140.5 532.3,140.3 534.0,141.0 535.2,139.8 538.1,141.6 538.1,140.7 540.0,142.1 542.2,142.1 543.2,141.2 545.6,141.3 546.8,142.1 548.4,141.4 550.2,141.9 552.0,142.3 553.7,142.2 554.8,143.2 557.8,142.6 558.1,142.2 561.5,142.7 562.4,142.8 563.6,143.5 566.7,142.3 567.8,143.2 568.9,142.8 571.6,143.6 573.4,143.5 575.0,143.4 576.5,142.7 577.5,144.3 580.8,144.6 581.1,144.4 582.9,143.8 584.7,144.9 587.0,144.3 589.2,145.1 590.0,145.4 591.4,144.9 593.8,144.4 594.9,144.3 597.3,144.6 597.7,144.9 600.0,145.5 601.9,146.2 603.4,147.0 605.5,146.2 606.8,146.6 607.9,147.0 609.2,147.8 612.5,148.8 613.4,148.9 614.3,149.0 616.9,150.1 617.5,149.9 620.2,151.4 621.0,152.4 623.0,152.6 625.2,152.7 626.8,153.6 629.3,153.9 630.0,154.7 632.5,156.0 634.1,155.7 635.6,156.4 637.8,157.5 639.1,156.6 640.3,157.6 642.1,158.0 643.1,159.1 644.8,159.5 647.0,159.5 649.1,160.5 651.3,161.5 652.6,160.7 653.7,161.6 655.7,161.8 657.9,162.0 658.5,161.4 660.3,162.7 661.7,162.1 663.7,162.3 664.8,163.2 667.1,163.6 668.5,163.8 670.5,163.7 671.4,163.2 673.9,165.2 675.1,164.2 676.8,165.1 678.8,165.4 680.5,165.0 681.2,164.6 683.3,165.3 685.4,165.5 688.1,165.9 689.1,167.1 690.9,166.7 692.9,166.4 694.0,167.0 694.7,167.9 697.3,167.2 698.1,167.5 700.3,167.3 701.7,167.9 703.5,166.7 706.1,166.6 706.6,167.1 709.5,166.4 709.7,167.7 711.1,167.0 714.0,167.6 715.7,166.5 717.5,167.0 719.0,167.2 720.0,167.3 722.3,167.2 722.7,166.5 724.8,166.2 725.8,167.7 728.1,167.6 728.9,166.8 731.1,166.1 732.4,167.5 734.8,166.7 736.2,167.3 738.5,166.7 738.3,167.1 740.2,165.9 741.7,166.3 744.2,166.1 745.5,165.5 747.6,166.1 748.4,166.6 751.2,166.7 752.9,165.0 753.4,165.7 754.7,166.2 757.6,165.0 758.4,166.5 760.0,165.5 762.3,165.5 762.4,165.6 764.8,166.3 765.8,165.4 768.9,165.0 769.8,165.2 771.7,165.9 773.6,165.6 775.1,165.7 775.1,165.5 776.8,166.2 780.1,166.2 781.2,165.7 782.4,166.7 783.2,166.9 785.5,166.5 787.8,167.2 788.1,166.2 789.5,166.6 792.3,168.0 794.5,167.9 794.5,167.8 797.3,167.3 799.3,167.6 800.0,167.5 800.9,167.1 802.5,167.9 805.1,168.5 805.5,167.0 809.0,167.6 809.3,168.8 810.6,168.8 813.7,168.5 814.8,167.5 816.4,168.8 818.3,168.7 818.7,168.3 821.4,168.1 821.9,168.5 824.9,169.2 825.6,170.1 827.7,168.8 829.3,170.1 830.5,169.4 832.5,170.6 834.3,169.2 835.8,169.5 837.2,170.4 838.0,170.1 840.5,170.2 841.8,170.5 844.4,170.3 845.7,170.1 846.6,170.6 848.8,170.2 850.9,170.8 851.7,170.4 854.3,171.8 856.1,170.6 856.1,171.5 857.7,172.0 860.6,171.1 861.8,171.8 862.9,171.3 865.7,172.0 867.0,171.0 867.9,171.4 869.2,172.3 871.9,172.9 873.5,173.0 875.0,172.3 876.3,172.3 879.2,172.5 880.0,172.6 880.7,172.4 882.7,173.0 884.9,172.8 887.3,173.5 887.3,172.2 890.1,173.4 891.6,173.3 892.1,173.3 895.2,173.7 895.3,172.8 898.6,173.7 898.8,174.1 901.8,174.5 902.9,174.5 903.5,174.0 906.5,173.8 906.8,174.9 909.5,173.4 909.9,174.5 913.2,174.7 914.7,173.9 915.8,174.1 916.9,174.1 918.8,174.0 920.8,175.3 922.9,175.6 923.7,175.2 924.5,175.9 927.1,176.1 928.6,174.5 930.6,174.7 932.8,175.4 934.3,175.3 934.8,175.7 937.2,175.3 938.0,175.3 940.5,174.9 941.0,175.5 943.6,174.7 944.5,176.4 946.2,176.1 947.9,174.8 949.8,176.3 952.0,174.8 953.5,175.9 954.7,176.0 956.5,175.1 958.4,175.0 959.3,176.4 961.4,175.8 963.4,175.8 964.4,175.9 965.3,175.6 967.0,176.8 970.3,176.2 970.5,176.6 972.4,176.6 974.4,176.0"/>
</g>
<g stroke="#151515" stroke-width="1.6" fill="none">
<path d="M463.2 36V207 M458.3 201.1H974.4 M589.9 201V206.8 M718.3 201V206.8 M845.6 201V206.8 M973.9 201V206.8"/>
</g>
<polygon fill="#ff2a00" points="333.7,119.7 264.3,210.2 258.6,205.9 254.0,228.8 274.9,218.4 269.3,214.1 338.7,123.5"/>
<polygon fill="#ff2a00" points="550.8,138.1 534.0,164.8 528.1,161.1 525.7,183.7 545.0,171.7 539.1,168.0 555.8,141.3"/>
<polygon fill="#ff2a00" points="655.1,168.1 667.6,156.0 672.5,161.0 679.9,139.9 658.6,146.6 663.4,151.6 650.9,163.7"/>
<g font-family="'Liberation Sans', Arial, sans-serif" fill="#000">
<g font-size="33.5px" text-anchor="end">
<text x="87.8" y="34.5">3</text>
<text x="87.8" y="128.7">2</text>
<text x="87.8" y="226.0">1</text>
<text x="87.8" y="322.1">0</text>
</g>
<g font-size="33.5px" text-anchor="middle" letter-spacing="-0.8">
<text x="115.5" y="371.2">250</text>
<text x="263.5" y="371.2">350</text>
<text x="412.6" y="371.2">450</text>
<text x="561.2" y="371.2">550</text>
<text x="708.4" y="371.2">650</text>
<text x="858.8" y="371.2">750</text>
<text x="1006.2" y="371.2">850</text>
</g>
<g font-size="17.3px" text-anchor="middle" fill="#1e1e1e">
<text transform="translate(462.4,233.4) scale(1,1.13)">450</text>
<text transform="translate(590.3,233.4) scale(1,1.13)">550</text>
<text transform="translate(718.4,233.4) scale(1,1.13)">650</text>
<text transform="translate(845.6,233.4) scale(1,1.13)">750</text>
<text transform="translate(973.6,233.4) scale(1,1.13)">850</text>
<text transform="translate(445,208.2) scale(1,1.13)">0</text>
</g>
<text x="432.4 461.2 479.5 500.2 519.5 528.8 548.6 569.7 589.2 599.5 619.9 631.8 651.1 679.3" y="429.7" font-size="33.3px" font-weight="bold" stroke="#fff" stroke-width="0.5">Wavelength(nm)</text>
<text transform="translate(32.2,259.6) rotate(-90)" x="-0.7 23.6 45.3 62.8 82.7 94.1 115 133.9 154.1 171.5" font-size="33px" font-weight="bold">Absorbance</text>
</g>
</svg>
</body>
</html>
